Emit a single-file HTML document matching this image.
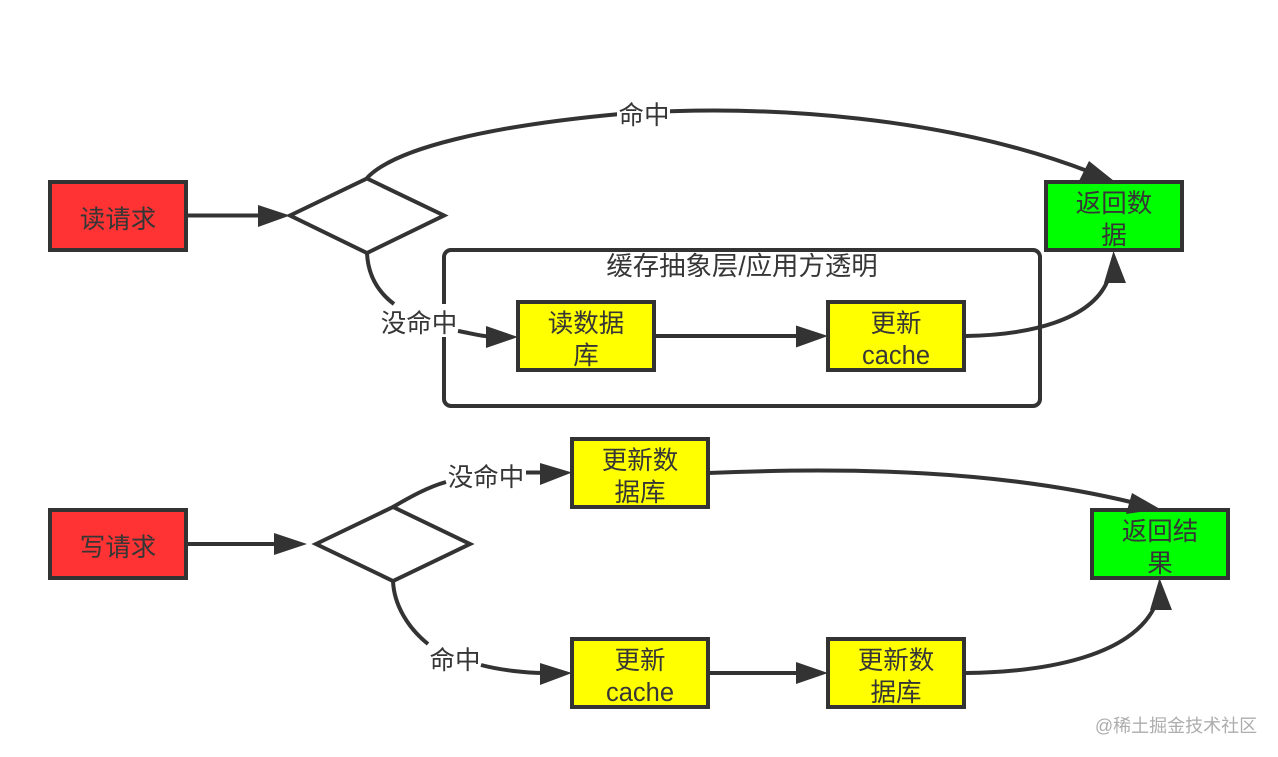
<!DOCTYPE html>
<html><head><meta charset="utf-8"><style>
html,body{margin:0;padding:0;background:#fff;width:1278px;height:757px;overflow:hidden}
svg{display:block}
text{font-family:"Liberation Sans","Noto Sans CJK SC",sans-serif;font-size:25.5px;fill:#363636;text-anchor:middle}
.b{fill:none;stroke:#333;stroke-width:4}
.l{fill:none;stroke:#333;stroke-width:4}
.a{fill:#333;stroke:none}
</style></head><body>
<svg width="1278" height="757" viewBox="0 0 1278 757" xmlns="http://www.w3.org/2000/svg">
<!-- top group -->
<rect x="444" y="250" width="596" height="156" rx="7" class="b"/>
<rect x="50" y="182" width="136" height="68" fill="#ff3333" stroke="#333" stroke-width="4"/>
<polygon points="290,215.500 367,178.500 444,215.500 367,253" fill="#fff" stroke="#333" stroke-width="4"/>
<rect x="1046" y="182" width="136" height="68" fill="#00ff00" stroke="#333" stroke-width="4"/>
<rect x="518" y="302" width="136" height="68" fill="#ffff00" stroke="#333" stroke-width="4"/>
<rect x="828" y="302" width="136" height="68" fill="#ffff00" stroke="#333" stroke-width="4"/>

<path class="l" d="M187 215.500H260"/>
<polygon class="a" points="258,205 258,227 290,215.500"/>
<path class="l" d="M367 178C395 148 490 126 620 114C770 103 950 118 1090 172"/>
<polygon class="a" points="1089,161 1079,181 1114,181"/>
<rect x="378" y="304" width="80" height="33" fill="#fff"/>
<path class="l" d="M367 253C368 275 378 292 394 304"/>
<path class="l" d="M458 331C470 333 480 336 490 336.500"/>
<polygon class="a" points="486,326 486,348 518,337"/>
<path class="l" d="M656 336H798"/>
<polygon class="a" points="796,325.500 796,347.500 828,336"/>
<path class="l" d="M966 336C1030 335 1090 320 1107 282"/>
<polygon class="a" points="1113.500,251 1104,283 1126,283"/>

<rect x="617" y="100" width="53" height="30" fill="#fff"/>
<text x="644" y="124">命中</text>
<text x="419" y="332">没命中</text>

<text x="118" y="228">读请求</text>
<text x="742" y="275" style="font-size:26.400px">缓存抽象层/应用方透明</text>
<text x="1114" y="212">返回数</text>
<text x="1114" y="244">据</text>
<text x="586" y="332">读数据</text>
<text x="586" y="364">库</text>
<text x="896" y="332">更新</text>
<text x="896" y="364">cache</text>

<!-- bottom group -->
<rect x="50" y="510" width="136" height="68" fill="#ff3333" stroke="#333" stroke-width="4"/>
<polygon points="316,544 393,507 470,544 393,581" fill="#fff" stroke="#333" stroke-width="4"/>
<rect x="572" y="439" width="136" height="68" fill="#ffff00" stroke="#333" stroke-width="4"/>
<rect x="572" y="639" width="136" height="68" fill="#ffff00" stroke="#333" stroke-width="4"/>
<rect x="828" y="639" width="136" height="68" fill="#ffff00" stroke="#333" stroke-width="4"/>
<rect x="1092" y="510" width="136" height="68" fill="#00ff00" stroke="#333" stroke-width="4"/>

<path class="l" d="M187 544H280"/>
<polygon class="a" points="274,533 274,555 307,544"/>
<path class="l" d="M393 507C410 497 428 487 446 482"/>
<path class="l" d="M526 472.500H545"/>
<polygon class="a" points="540,463 540,485 572,472.500"/>
<path class="l" d="M708 473C850 467 1000 470 1135 503"/>
<polygon class="a" points="1132,493 1126,514 1160,509"/>
<path class="l" d="M393 581C394 605 408 628 428 644"/>
<path class="l" d="M481 665C500 670 525 673 545 673"/>
<polygon class="a" points="540,663 540,685 572,673"/>
<path class="l" d="M708 673H798"/>
<polygon class="a" points="796,662 796,684 828,673"/>
<path class="l" d="M966 673C1050 672 1130 655 1154 608"/>
<polygon class="a" points="1159.500,578 1150,610 1172,610"/>

<text x="486" y="486">没命中</text>
<text x="455" y="669">命中</text>
<text x="118" y="556">写请求</text>
<text x="640" y="469">更新数</text>
<text x="640" y="501">据库</text>
<text x="640" y="669">更新</text>
<text x="640" y="701">cache</text>
<text x="896" y="669">更新数</text>
<text x="896" y="701">据库</text>
<text x="1160" y="540">返回结</text>
<text x="1160" y="572">果</text>

<text x="1176" y="732" style="font-size:18px;fill:#adadad">@稀土掘金技术社区</text>
</svg>
</body></html>
